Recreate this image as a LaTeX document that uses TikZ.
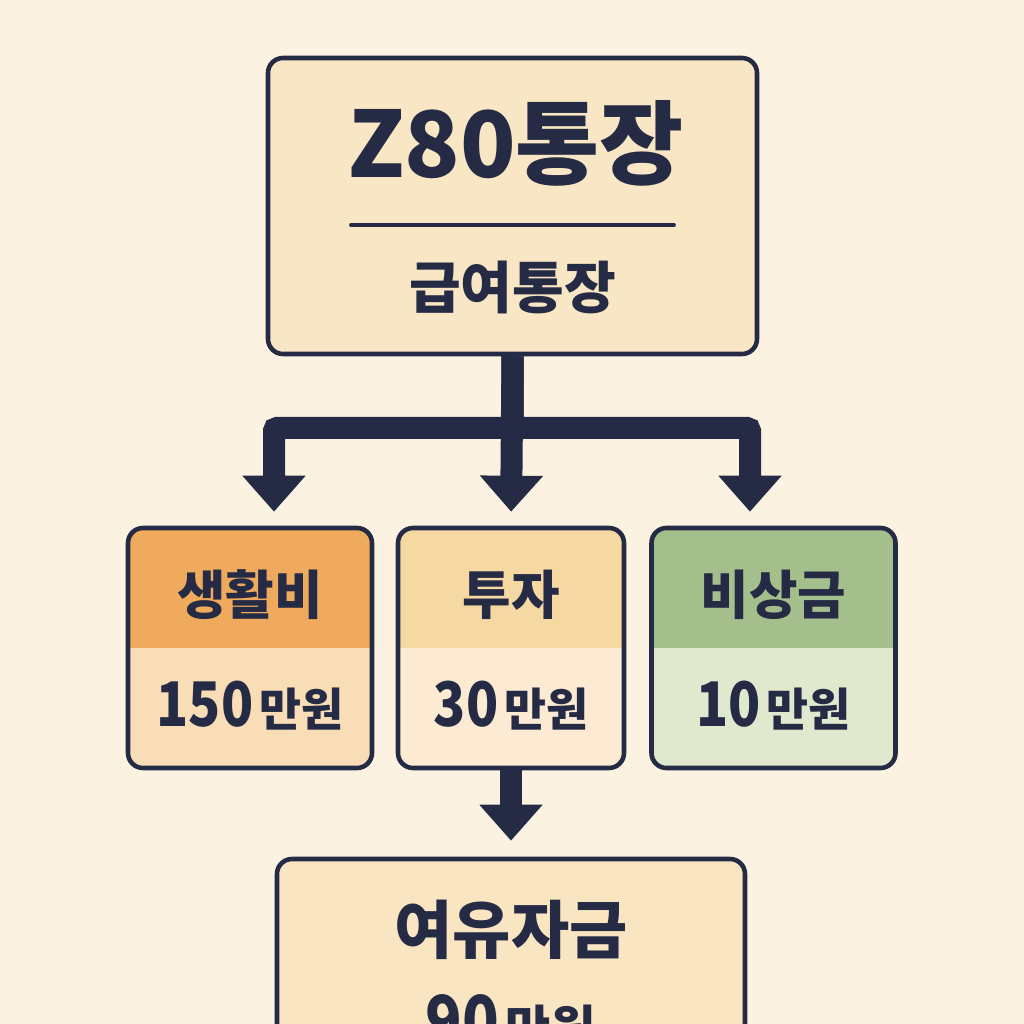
\documentclass[tikz,border=0pt]{standalone}
\usepackage{fontspec}
\setmainfont{Noto Sans CJK KR}
\newfontfamily\heavy{Noto Sans CJK KR Black}
\usetikzlibrary{arrows.meta}

\definecolor{paper}{HTML}{FCF2E2}
\definecolor{ink}{HTML}{252B45}
\definecolor{topfill}{HTML}{F9E6C4}
\definecolor{livehead}{HTML}{F0AA5E}
\definecolor{livelow}{HTML}{F8DDB6}
\definecolor{investhead}{HTML}{F6D8A2}
\definecolor{investlow}{HTML}{FCEBD2}
\definecolor{safehead}{HTML}{A5BF8C}
\definecolor{safelow}{HTML}{E0E8CE}
\definecolor{sparefill}{HTML}{FAE5C2}

\newcommand{\amount}[3]{{\bfseries\fontsize{#1}{#1}\selectfont\scalebox{0.86}[1]{#3}}\,{\bfseries\fontsize{#2}{#2}\selectfont 만원}}

\tikzset{
  panel/.style={draw=ink,line width=1.3pt,rounded corners=0.15cm},
  lowhalf/.style={path picture={\fill[#1,sharp corners] (path picture bounding box.west) rectangle (path picture bounding box.south east);}},
  flow/.style={draw=ink,line width=0.22cm,rounded corners=0.03cm,
    -{Triangle[width=0.61cm,length=0.36cm]}},
  headtxt/.style={font=\bfseries\fontsize{15}{15}\selectfont,text=ink},
}

\begin{document}
\begin{tikzpicture}
  \clip (0,0) rectangle (10.24,10.24);
  \fill[paper] (0,0) rectangle (10.24,10.24);

  % 급여통장 (위)
  \node[panel,fill=topfill,minimum width=4.89cm,minimum height=2.96cm] (top) at (5.125,8.18) {};
  \node[text=ink,font=\heavy\fontsize{26}{26}\selectfont] (title) at (5.16,8.81) {Z80통장};
  \coordinate (rule1) at (3.51,7.99);
  \coordinate (rule2) at (6.74,7.99);
  \draw[ink,line width=1.1pt,line cap=round] (rule1) -- (rule2);
  \node[text=ink,font=\bfseries\fontsize{16}{16}\selectfont] (sub) at (5.125,7.37) {급여통장};

  % 세 갈래 상자
  \node[panel,fill=livehead,lowhalf=livelow,minimum width=2.44cm,minimum height=2.40cm] (live) at (2.50,3.76) {};
  \node[panel,fill=investhead,lowhalf=investlow,minimum width=2.26cm,minimum height=2.40cm] (invest) at (5.11,3.76) {};
  \node[panel,fill=safehead,lowhalf=safelow,minimum width=2.44cm,minimum height=2.40cm] (safe) at (7.735,3.76) {};

  \node[headtxt] (livet) at ([yshift=0.53cm]live.center) {생활비};
  \node[headtxt] (investt) at ([yshift=0.53cm]invest.center) {투자};
  \node[headtxt] (safet) at ([yshift=0.53cm]safe.center) {비상금};

  \node[text=ink,inner sep=0pt] (livev) at ([yshift=-0.58cm]live.center) {\amount{17.5}{13}{150}};
  \node[text=ink,inner sep=0pt] (investv) at ([yshift=-0.58cm]invest.center) {\amount{17.5}{13}{30}};
  \node[text=ink,inner sep=0pt] (safev) at ([yshift=-0.58cm]safe.center) {\amount{17.5}{13}{10}};

  % 여유자금 (아래, 잘림)
  \node[panel,fill=sparefill,minimum width=4.68cm,minimum height=2.40cm] (spare) at (5.11,0.45) {};
  \node[text=ink,font=\bfseries\fontsize{18}{18}\selectfont] (sparet) at (5.11,0.94) {여유자금};
  \node[text=ink,inner sep=0pt] (sparev) at (5.11,0.02) {\amount{20}{14}{90}};

  % 화살표
  \coordinate (fork) at (5.125,5.96);
  \draw[flow,shorten >=0.14cm] (top.south) -- (fork) -| ([xshift=0.24cm]live.north);
  \draw[flow,shorten >=0.14cm] (top.south) -- (fork) -| ([xshift=-0.235cm]safe.north);
  \draw[flow,shorten >=0.14cm] (top.south) -- (invest.north);
  \draw[flow,shorten >=0.16cm] (invest.south) -- (spare.north);
\end{tikzpicture}
\end{document}
